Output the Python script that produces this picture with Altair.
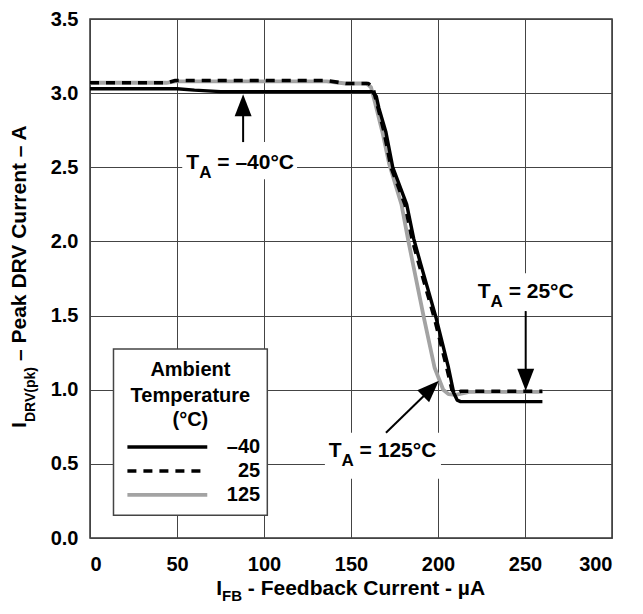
import altair as alt
import pandas as pd

# ---------------- data ----------------
cur_m40 = [0, 50, 60, 75, 160, 162, 164.5, 166, 170, 174, 182, 186, 190, 199, 206, 209, 211, 213, 260]
drv_m40 = [3.03, 3.03, 3.02, 3.01, 3.01, 3.01, 2.98, 2.90, 2.74, 2.50, 2.25, 2.02, 1.85, 1.48, 1.15, 0.98, 0.93, 0.92, 0.92]

cur_25 = [0, 44, 49, 136, 147, 160, 162.5, 164.5, 169, 173, 181, 185, 189, 198, 205, 208, 210, 213, 260]
drv_25 = [3.07, 3.07, 3.085, 3.085, 3.065, 3.065, 3.04, 2.95, 2.74, 2.50, 2.25, 2.02, 1.85, 1.48, 1.15, 1.00, 0.97, 0.99, 0.99]

cur_125 = [0, 44, 49, 136, 147, 159, 161.5, 163.5, 168, 172, 179, 183, 192, 198, 203, 206, 210, 218, 260]
drv_125 = [3.07, 3.07, 3.08, 3.08, 3.065, 3.065, 3.04, 2.95, 2.74, 2.52, 2.25, 2.00, 1.48, 1.15, 1.00, 0.97, 0.965, 0.985, 0.985]

x_ticks = [0, 50, 100, 150, 200, 250, 300]
y_ticks = [0.0, 0.5, 1.0, 1.5, 2.0, 2.5, 3.0, 3.5]

legend_title = ["Ambient", "Temperature", "(°C)"]
legend_labels = ["–40", "25", "125"]
ann_temps = ["–40", "25", "125"]

# ---------------- layout / style ----------------
FONT = "Liberation Sans"
W, H = 522, 519
xscale = alt.Scale(domain=[0, 300], nice=False, zero=False)
yscale = alt.Scale(domain=[0, 3.5], nice=False, zero=False)
xaxis = alt.Axis(values=x_ticks, title=None, grid=True, labelPadding=16, format="d")
yaxis = alt.Axis(values=y_ticks, title=None, grid=True, labelPadding=12, format=".1f")

CW = {' ': 278, '-': 333, '–': 556, '=': 584, '°': 400, '(': 333, ')': 333, '.': 278,
      'A': 722, 'B': 722, 'C': 722, 'D': 722, 'F': 611, 'I': 278, 'P': 667, 'R': 722,
      'T': 611, 'V': 667, 'a': 556, 'b': 611, 'c': 556, 'd': 611, 'e': 556, 'k': 556,
      'n': 611, 'p': 611, 'r': 389, 't': 333, 'u': 611, 'µ': 611, 'm': 889, 'i': 278}


def tw(s, fs):
    return sum(CW.get(ch, 556) for ch in s) * fs / 1000.0


def X(f):
    return alt.X(f, type="quantitative", scale=xscale, axis=xaxis)


def Y(f):
    return alt.Y(f, type="quantitative", scale=yscale, axis=yaxis)


layers = []


def line_layer(cur, drv, color, width, dash=None):
    df = pd.DataFrame({"cur": cur, "drv": drv})
    kw = dict(color=color, strokeWidth=width, strokeJoin="round", clip=True)
    if dash:
        kw["strokeDash"] = dash
    return alt.Chart(df).mark_line(**kw).encode(x=X("cur"), y=Y("drv"))


# data lines (gray under, then solid, then dashed)
layers.append(line_layer(cur_125, drv_125, "#a3a3a3", 3.8))
layers.append(line_layer(cur_m40, drv_m40, "#000000", 3.4))
layers.append(line_layer(cur_25, drv_25, "#000000", 3.6, [9, 7]))

# ---------------- annotations ----------------
ann_cx = [86.3, 250.4, 168.1]
ann_base = [2.49, 1.617, 0.544]
ann_box = [(53, 119, 2.42, 2.67), (221, 280, 1.53, 1.785), (135, 201.7, 0.40, 0.71)]
shafts = [(88, 2.67, 88, 2.9), (250.4, 1.53, 250.4, 1.1), (170.1, 0.71, 195.5, 1.0)]
heads = [(88, 2.993, 0), (250.4, 0.993, 180), (200.5, 1.06, 45.5)]

box_df = pd.DataFrame(ann_box, columns=["x1", "x2", "y1", "y2"])
layers.append(alt.Chart(box_df).mark_rect(color="white").encode(
    x=X("x1"), x2="x2", y=Y("y1"), y2="y2"))

sh_df = pd.DataFrame(shafts, columns=["x1", "y1", "x2", "y2"])
layers.append(alt.Chart(sh_df).mark_rule(color="black", strokeWidth=2).encode(
    x=X("x1"), y=Y("y1"), x2="x2", y2="y2"))

hd_df = pd.DataFrame(heads, columns=["x", "y", "ang"])
layers.append(alt.Chart(hd_df).mark_point(
    shape="M0,0L0.77,2L-0.77,2Z", filled=True, size=484, color="black", opacity=1, strokeWidth=0
).encode(x=X("x"), y=Y("y"), angle=alt.Angle("ang:Q", scale=None)))


def pieces(parts):
    """parts: list of (text, fontsize, dy); returns [(text, fs, dy, dx)] with leading spaces turned into offsets"""
    out, off = [], 0.0
    for s, f, dy in parts:
        lead = len(s) - len(s.lstrip(" "))
        off += tw(" " * lead, f)
        st = s.lstrip(" ")
        out.append((st, f, dy, off))
        off += tw(st, f)
    return out, off


FS, FSS = 21, 17
base = dict(font=FONT, fontWeight="bold", color="black", align="left", baseline="alphabetic")
for t, cx, by in zip(ann_temps, ann_cx, ann_base):
    pcs, tot = pieces([("T", FS, 0), ("A", FSS, 9), (" = " + t + "°C", FS, 0)])
    d = pd.DataFrame({"x": [cx], "y": [by]})
    for s, f, dy, dx in pcs:
        layers.append(alt.Chart(d).mark_text(text=s, fontSize=f, dx=dx - tot / 2, dy=dy, **base).encode(
            x=X("x"), y=Y("y")))

# ---------------- legend box ----------------
lg_box = pd.DataFrame({"x1": [13.5], "x2": [101.9], "y1": [0.154], "y2": [1.275]})
layers.append(alt.Chart(lg_box).mark_rect(fill="white", stroke="#444", strokeWidth=1.5).encode(
    x=X("x1"), x2="x2", y=Y("y1"), y2="y2"))

lt_df = pd.DataFrame({"t": legend_title, "x": [57.7] * 3, "y": [1.094, 0.919, 0.752]})
layers.append(alt.Chart(lt_df).mark_text(font=FONT, fontSize=20, fontWeight="bold", color="black",
                                         align="center", baseline="alphabetic").encode(
    x=X("x"), y=Y("y"), text="t:N"))

ll_df = pd.DataFrame({"t": legend_labels, "x": [97.8] * 3, "y": [0.570, 0.409, 0.248]})
layers.append(alt.Chart(ll_df).mark_text(font=FONT, fontSize=20, fontWeight="bold", color="black",
                                         align="right", baseline="alphabetic").encode(
    x=X("x"), y=Y("y"), text="t:N"))

sample_y = [0.613, 0.452, 0.291]
sample_style = [("#000000", 3.5, None), ("#000000", 3.6, [9, 7]), ("#a3a3a3", 3.8, None)]
for sy, (c, w, dsh) in zip(sample_y, sample_style):
    d = pd.DataFrame({"x1": [21.5], "x2": [67.4], "y": [sy]})
    kw = dict(color=c, strokeWidth=w)
    if dsh:
        kw["strokeDash"] = dsh
    layers.append(alt.Chart(d).mark_rule(**kw).encode(x=X("x1"), x2="x2", y=Y("y")))

# ---------------- axis titles (with subscripts) ----------------
one = pd.DataFrame({"a": [0]})
MF = 21

# x title
xp, xtot = pieces([("I", MF, 0), ("FB", 15, 6), (" - Feedback Current - µA", MF, 0)])
x0 = W / 2 - xtot / 2
for s, f, dy, dx in xp:
    layers.append(alt.Chart(one).mark_text(text=s, fontSize=f, dx=dx, dy=dy, **base).encode(
        x=alt.value(x0), y=alt.value(576)))

# y title (rotated)
yp, ytot = pieces([("I", MF, 0), ("DRV(pk)", 14, 9), (" – Peak DRV Current – A", MF, 0)])
y0 = 257 + ytot / 2
for s, f, dy, dx in yp:
    layers.append(alt.Chart(one).mark_text(text=s, fontSize=f, dx=dx, dy=dy, angle=270, **base).encode(
        x=alt.value(-64), y=alt.value(y0)))

chart = alt.layer(*layers).properties(
    width=W, height=H,
    padding={"left": 82, "top": 11, "right": 22, "bottom": 68},
    autosize=alt.AutoSizeParams(type="none"),
    background="white",
).configure_view(
    stroke="#333", strokeWidth=1.5
).configure_axis(
    domain=False, ticks=False, gridColor="#444", gridWidth=1, gridOpacity=1,
    labelFont=FONT, labelFontSize=20, labelFontWeight="bold", labelColor="black"
)

chart.save("out.html", embed_options={"renderer": "svg", "actions": False})
